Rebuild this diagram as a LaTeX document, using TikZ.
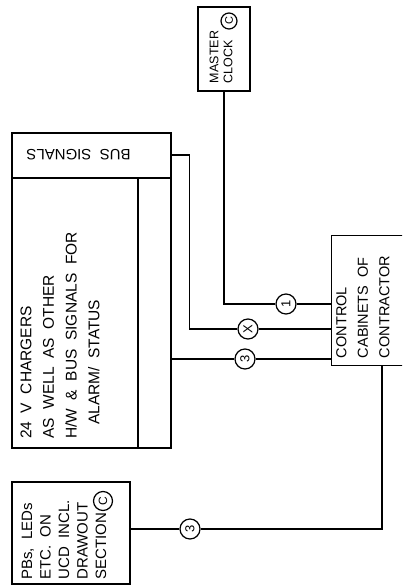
\documentclass[tikz,border=0pt]{standalone}
\usepackage{fontspec}
\setmainfont[WordSpace=2]{Liberation Sans}
\begin{document}
\begin{tikzpicture}[x=1pt, y=-1pt, line width=1.3pt,
  box/.style={draw, inner sep=0pt},
  lbl/.style={rotate=90, align=left, inner sep=0pt},
  tag/.style={circle, draw, line width=1.2pt, inner sep=0pt, minimum size=20pt, rotate=90, font=\fontsize{13}{13}\selectfont}]
\useasboundingbox (0,0) rectangle (402,586);
\clip (0,0) rectangle (402,586);

% boxes
\node[box, minimum width=52pt, minimum height=84pt] (clock) at (224,49) {};
\node[box, minimum width=159pt, minimum height=315pt] (chg) at (91.5,290.5) {};
\node[inner sep=0pt, minimum width=120pt, minimum height=129pt] (cab) at (392,300.5) {};
\draw (cab.north east) -- (cab.north west) -- (cab.south west) -- (cab.south east);
\node[box, minimum width=118pt, minimum height=102pt] (pbs) at (71,533) {};

% inner lines of the chargers box
\coordinate (busdiv) at (138,178);
\draw (chg.west |- busdiv) -- (chg.east |- busdiv);
\draw (busdiv) -- (busdiv |- chg.south);

% texts
\node[lbl, font=\fontsize{12.5}{14}\selectfont] (clocktxt) at (221,57) {MASTER\\CLOCK};
\node[tag, minimum size=16pt, font=\fontsize{11}{11}\selectfont] (clockc) at (229,21) {C};
\node[inner sep=0pt, rotate=180, font=\fontsize{15}{15}\selectfont] (bustxt) at (78.5,155) {BUS SIGNALS};
\node[lbl, font=\fontsize{15.5}{22.7}\selectfont] (chgtxt) at (60,335.5)
  {24 V CHARGERS\\AS WELL AS OTHER\\H/W \& BUS SIGNALS FOR\\\hspace*{0.9em}ALARM/ STATUS};
\node[lbl, font=\fontsize{14.5}{21.5}\selectfont] (cabtxt) at (363,307) {CONTROL\\CABINETS OF\\CONTRACTOR};
\node[lbl, font=\fontsize{15}{18.5}\selectfont] (pbstxt) at (64,540) {PBs, LEDs\\ETC. ON\\UCD INCL.\\DRAWOUT\\SECTION};
\node[tag, minimum size=19pt, font=\fontsize{12}{12}\selectfont] (pbsc) at (103,501) {C};

% cable tags
\node[tag] (c1) at (286,304) {1};
\node[tag] (cx) at (248,329) {X};
\node[tag] (c3a) at (245,359) {3};
\node[tag] (c3b) at (190,529) {3};

% connections
\draw (clock) |- (c1) -- (c1 -| cab.west);
\draw (chg.east |- bustxt) -- ++(18,0) |- (cx) -- (cx -| cab.west);
\draw (chg.east |- c3a) -- (c3a) -- (c3a -| cab.west);
\draw ([xshift=-10pt]cab.south) |- (c3b) -- (c3b -| pbs.east);
\end{tikzpicture}
\end{document}
